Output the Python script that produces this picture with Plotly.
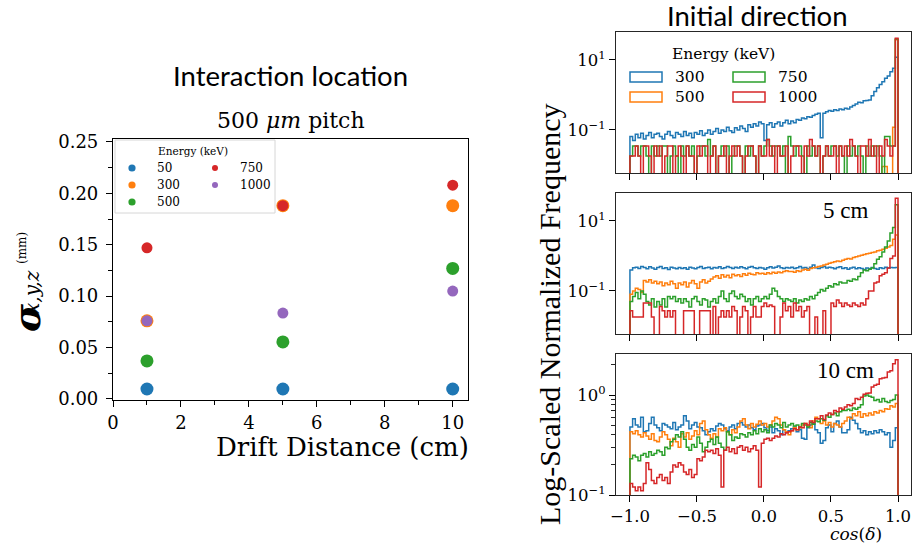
import numpy as np
import plotly.graph_objects as go

# ---------------- data: left panel (interaction location) ----------------
DRIFT_CM = [1, 5, 10]
LEFT_ENERGIES = ["50", "300", "500", "750", "1000"]
SIGMA_50 = [0.0097, 0.0097, 0.0097]
SIGMA_300 = [0.076, 0.188, 0.188]
SIGMA_500 = [0.037, 0.0555, 0.127]
SIGMA_750 = [0.147, 0.188, 0.208]
SIGMA_1000 = [0.076, 0.0836, 0.105]
LEFT_X_TICKS = [0, 2, 4, 6, 8, 10]
LEFT_X_MINOR = [1, 3, 5, 7, 9]
LEFT_Y_TICKS = [0.0, 0.05, 0.10, 0.15, 0.20, 0.25]
LEFT_Y_TICKTEXT = ["0.00", "0.05", "0.10", "0.15", "0.20", "0.25"]
LEFT_Y_MINOR = [0.025, 0.075, 0.125, 0.175, 0.225]

# ---------------- data: right panels (initial direction histograms) -------
BIN_LO, BIN_HI, N_BINS = -1.0, 1.0, 100
RIGHT_ENERGIES = ["300", "500", "750", "1000"]
RIGHT_X_TICKS = [-1.0, -0.5, 0.0, 0.5, 1.0]
RIGHT_X_TICKTEXT = ["\u22121.0", "\u22120.5", "0.0", "0.5", "1.0"]
PANEL_LABELS = ["", "5 cm", "10 cm"]

# panel 1 (top)
H1_300 = [0.065, 0.050, 0.075, 0.060, 0.080, 0.055, 0.070, 0.085, 0.060, 0.075,
          0.080, 0.065, 0.055, 0.075, 0.090, 0.070, 0.060, 0.085, 0.075, 0.065,
          0.090, 0.070, 0.080, 0.060, 0.085, 0.075, 0.095, 0.070, 0.080, 0.100,
          0.075, 0.090, 0.110, 0.080, 0.100, 0.090, 0.120, 0.095, 0.085, 0.115,
          0.100, 0.130, 0.110, 0.090, 0.140, 0.120, 0.150, 0.130, 0.170, 0.150,
          0.050, 0.140, 0.160, 0.120, 0.150, 0.170, 0.130, 0.160, 0.190, 0.150,
          0.180, 0.160, 0.200, 0.190, 0.220, 0.210, 0.240, 0.230, 0.260, 0.280,
          0.300, 0.060, 0.300, 0.330, 0.360, 0.340, 0.380, 0.360, 0.400, 0.380,
          0.420, 0.400, 0.450, 0.500, 0.550, 0.620, 0.600, 0.680, 0.700, 0.720,
          0.950, 1.250, 1.600, 2.000, 2.400, 3.000, 3.500, 4.600, 5.800, 12.0]
H1_500 = [0] * 10 + [0] * 10 + [0] * 10 + [0] * 10 + [0] * 10 + \
         [0] * 10 + [0] * 10 + [0] * 10 + [0] * 10 + \
         [0, 0, 0, 0, 0.009, 0.009, 0, 0, 0.12, 38.0]
H1_750 = [0.018, 0.035, 0.035, 0.018, 0.035, 0.035, 0.018, 0, 0.035, 0.018,
          0.035, 0.018, 0.035, 0.035, 0, 0.018, 0.035, 0.018, 0, 0.035,
          0.018, 0.035, 0.018, 0.035, 0, 0.018, 0.035, 0.035, 0.018, 0.053,
          0.018, 0.035, 0, 0.018, 0.035, 0.018, 0.035, 0, 0.018, 0.035,
          0.035, 0.018, 0, 0.035, 0.018, 0.035, 0.018, 0, 0.035, 0.018,
          0.035, 0.053, 0.035, 0.018, 0.035, 0.035, 0.018, 0.035, 0, 0.065,
          0.035, 0.018, 0.035, 0.035, 0.018, 0, 0.035, 0.018, 0.035, 0.018,
          0.035, 0, 0.018, 0.035, 0.018, 0.035, 0.035, 0.018, 0.035, 0.018,
          0, 0.035, 0.018, 0.035, 0.018, 0.035, 0.018, 0, 0.035, 0.018,
          0.035, 0.018, 0.035, 0.018, 0, 0.065, 0.065, 0.035, 0.035, 40.0]
H1_1000 = [0.018, 0.018, 0.035, 0.018, 0, 0.035, 0.035, 0.018, 0, 0.035,
           0.018, 0.035, 0, 0.018, 0.035, 0.035, 0, 0.018, 0.035, 0.018,
           0, 0.035, 0.018, 0.018, 0, 0.035, 0.018, 0.035, 0.035, 0,
           0.018, 0.035, 0, 0.018, 0.018, 0.035, 0, 0.018, 0.035, 0.018,
           0.035, 0.018, 0, 0.018, 0.035, 0.035, 0.018, 0, 0.035, 0.018,
           0.018, 0.053, 0.018, 0.035, 0, 0.035, 0.018, 0.018, 0.035, 0,
           0.018, 0.035, 0.035, 0.018, 0, 0.035, 0.018, 0.053, 0.035, 0.018,
           0.035, 0, 0.018, 0.035, 0.018, 0.018, 0.035, 0, 0.035, 0.018,
           0.035, 0.018, 0.053, 0.035, 0.018, 0, 0.035, 0.035, 0.018, 0.053,
           0.018, 0.035, 0, 0.035, 0.018, 0.053, 0.035, 0.018, 0.035, 42.0]

# panel 2 (5 cm)
H2_300 = [0.40, 0.46, 0.48, 0.44, 0.50, 0.47, 0.43, 0.49, 0.45, 0.42,
          0.47, 0.50, 0.44, 0.46, 0.41, 0.48, 0.45, 0.43, 0.47, 0.44,
          0.46, 0.42, 0.48, 0.45, 0.43, 0.47, 0.50, 0.44, 0.46, 0.48,
          0.43, 0.47, 0.45, 0.49, 0.44, 0.46, 0.50, 0.47, 0.44, 0.48,
          0.45, 0.49, 0.46, 0.43, 0.48, 0.50, 0.46, 0.44, 0.47, 0.45,
          0.42, 0.46, 0.49, 0.45, 0.48, 0.52, 0.46, 0.44, 0.47, 0.45,
          0.48, 0.44, 0.46, 0.50, 0.45, 0.47, 0.43, 0.48, 0.55, 0.46,
          0.44, 0.47, 0.50, 0.45, 0.48, 0.46, 0.43, 0.47, 0.49, 0.44,
          0.46, 0.42, 0.45, 0.48, 0.43, 0.46, 0.44, 0.41, 0.45, 0.43,
          0.47, 0.44, 0.42, 0.46, 0.44, 0.48, 0.45, 0.47, 0.46, 0.47]
H2_500 = [0.08, 0.10, 0.12, 0.11, 0.09, 0.20, 0.18, 0.21, 0.17, 0.19,
          0.16, 0.18, 0.14, 0.17, 0.15, 0.19, 0.16, 0.12, 0.17, 0.15,
          0.18, 0.13, 0.17, 0.20, 0.16, 0.12, 0.18, 0.21, 0.17, 0.19,
          0.22, 0.25, 0.27, 0.23, 0.29, 0.25, 0.28, 0.24, 0.30, 0.27,
          0.29, 0.26, 0.31, 0.28, 0.32, 0.30, 0.29, 0.33, 0.31, 0.32,
          0.30, 0.33, 0.31, 0.34, 0.32, 0.35, 0.33, 0.36, 0.38, 0.36,
          0.36, 0.34, 0.38, 0.36, 0.40, 0.42, 0.39, 0.44, 0.46, 0.48,
          0.50, 0.52, 0.55, 0.58, 0.62, 0.65, 0.68, 0.72, 0.70, 0.76,
          0.80, 0.85, 0.82, 0.90, 0.95, 1.00, 1.05, 1.10, 1.15, 1.20,
          1.25, 1.30, 1.40, 1.45, 1.55, 1.65, 1.80, 2.00, 3.00, 4.00]
H2_750 = [0.05, 0.07, 0.09, 0.06, 0.10, 0.08, 0.05, 0.04, 0.06, 0.035,
          0.05, 0.04, 0.06, 0.035, 0.07, 0.06, 0.07, 0.05, 0.06, 0.045,
          0.06, 0.05, 0.035, 0.06, 0.07, 0.05, 0.04, 0.06, 0.055, 0.035,
          0.05, 0.06, 0.045, 0.07, 0.10, 0.06, 0.05, 0.085, 0.10, 0.07,
          0.06, 0.08, 0.07, 0.05, 0.06, 0.04, 0.06, 0.07, 0.05, 0.06,
          0.07, 0.06, 0.08, 0.12, 0.10, 0.07, 0.06, 0.05, 0.06, 0.055,
          0.05, 0.06, 0.045, 0.055, 0.05, 0.06, 0.055, 0.07, 0.06, 0.075,
          0.09, 0.11, 0.10, 0.12, 0.14, 0.13, 0.16, 0.15, 0.18, 0.17,
          0.17, 0.20, 0.19, 0.22, 0.21, 0.26, 0.33, 0.40, 0.38, 0.42,
          0.45, 0.60, 0.80, 0.95, 1.30, 1.80, 2.70, 4.50, 6.50, 29.0]
H2_1000 = [0.027, 0.018, 0.018, 0.018, 0.018, 0.045, 0.045, 0.045, 0.018, 0,
           0, 0.036, 0.027, 0.018, 0.027, 0.018, 0.027, 0, 0, 0,
           0.027, 0.027, 0.027, 0.027, 0, 0, 0.027, 0.027, 0.027, 0.027,
           0, 0.036, 0, 0.018, 0.027, 0.018, 0.027, 0.018, 0.036, 0.027,
           0, 0.018, 0.036, 0.027, 0, 0.018, 0.036, 0.018, 0.018, 0.036,
           0.045, 0.036, 0.040, 0.036, 0, 0, 0.018, 0.045, 0.027, 0.036,
           0.018, 0.045, 0.027, 0.036, 0.018, 0.027, 0.036, 0, 0, 0.018,
           0, 0, 0.027, 0, 0, 0.045, 0.036, 0.055, 0.045, 0.036,
           0.045, 0.040, 0.036, 0.045, 0.040, 0.036, 0.045, 0.040, 0.060, 0.100,
           0.100, 0.170, 0.180, 0.270, 0.300, 0.330, 0.450, 0.850, 1.000, 45.0]

# panel 3 (10 cm)
H3_300 = [0.48, 0.58, 0.50, 0.48, 0.60, 0.43, 0.44, 0.52, 0.60, 0.50,
          0.47, 0.44, 0.52, 0.50, 0.48, 0.46, 0.53, 0.45, 0.48, 0.50,
          0.62, 0.55, 0.46, 0.50, 0.53, 0.48, 0.47, 0.44, 0.40, 0.43,
          0.46, 0.44, 0.49, 0.52, 0.50, 0.46, 0.44, 0.48, 0.50, 0.46,
          0.52, 0.53, 0.50, 0.48, 0.50, 0.47, 0.45, 0.49, 0.50, 0.52,
          0.47, 0.44, 0.48, 0.42, 0.46, 0.44, 0.40, 0.45, 0.42, 0.44,
          0.46, 0.48, 0.43, 0.45, 0.37, 0.36, 0.47, 0.50, 0.52, 0.45,
          0.42, 0.33, 0.35, 0.47, 0.50, 0.43, 0.52, 0.55, 0.48, 0.42,
          0.42, 0.45, 0.60, 0.56, 0.52, 0.46, 0.42, 0.44, 0.40, 0.43,
          0.41, 0.44, 0.42, 0.45, 0.43, 0.40, 0.42, 0.30, 0.35, 0.47]
H3_500 = [0.43, 0.41, 0.44, 0.40, 0.38, 0.42, 0.39, 0.36, 0.41, 0.35,
          0.34, 0.38, 0.43, 0.40, 0.36, 0.31, 0.37, 0.34, 0.30, 0.41,
          0.38, 0.42, 0.36, 0.39, 0.44, 0.40, 0.52, 0.55, 0.45, 0.40,
          0.37, 0.41, 0.38, 0.46, 0.44, 0.47, 0.43, 0.40, 0.45, 0.42,
          0.48, 0.55, 0.58, 0.50, 0.46, 0.52, 0.48, 0.51, 0.55, 0.50,
          0.52, 0.48, 0.50, 0.55, 0.60, 0.58, 0.50, 0.45, 0.43, 0.40,
          0.44, 0.47, 0.45, 0.48, 0.50, 0.52, 0.49, 0.47, 0.55, 0.60,
          0.58, 0.52, 0.55, 0.50, 0.53, 0.48, 0.52, 0.50, 0.48, 0.52,
          0.55, 0.60, 0.58, 0.65, 0.62, 0.68, 0.60, 0.65, 0.62, 0.66,
          0.63, 0.68, 0.66, 0.70, 0.68, 0.73, 0.72, 0.78, 0.76, 0.82]
H3_750 = [0.23, 0.25, 0.24, 0.22, 0.25, 0.26, 0.24, 0.27, 0.25, 0.26,
          0.28, 0.27, 0.25, 0.30, 0.29, 0.34, 0.36, 0.40, 0.38, 0.43,
          0.36, 0.30, 0.28, 0.32, 0.30, 0.38, 0.33, 0.27, 0.30, 0.34,
          0.36, 0.32, 0.38, 0.33, 0.30, 0.28, 0.43, 0.40, 0.35, 0.38,
          0.37, 0.41, 0.40, 0.38, 0.42, 0.40, 0.44, 0.41, 0.46, 0.43,
          0.45, 0.42, 0.50, 0.48, 0.52, 0.50, 0.47, 0.53, 0.48, 0.50,
          0.52, 0.49, 0.50, 0.47, 0.52, 0.50, 0.48, 0.53, 0.51, 0.55,
          0.54, 0.58, 0.56, 0.62, 0.60, 0.64, 0.66, 0.62, 0.68, 0.70,
          0.70, 0.72, 0.70, 0.74, 0.72, 0.75, 0.80, 0.98, 1.00, 0.97,
          0.95, 0.88, 0.90, 0.85, 0.92, 0.86, 0.84, 0.88, 0.90, 1.00]
H3_1000 = [0.13, 0.12, 0.11, 0.12, 0.11, 0.13, 0.21, 0.18, 0.14, 0.13,
           0.15, 0.16, 0.14, 0.15, 0.13, 0.17, 0.20, 0.19, 0.21, 0.20,
           0.17, 0.16, 0.18, 0.15, 0.16, 0.23, 0.22, 0.24, 0.28, 0.27,
           0.28, 0.26, 0.29, 0.25, 0.12, 0.28, 0.30, 0.27, 0.29, 0.26,
           0.30, 0.31, 0.28, 0.30, 0.27, 0.29, 0.31, 0.28, 0.12, 0.33,
           0.36, 0.37, 0.35, 0.37, 0.39, 0.38, 0.41, 0.40, 0.42, 0.43,
           0.44, 0.46, 0.45, 0.48, 0.47, 0.52, 0.50, 0.55, 0.53, 0.58,
           0.58, 0.62, 0.57, 0.63, 0.66, 0.64, 0.70, 0.68, 0.74, 0.72,
           0.76, 0.80, 0.78, 0.82, 0.92, 0.90, 0.95, 1.02, 1.04, 1.05,
           1.20, 1.25, 1.28, 1.45, 1.48, 1.50, 1.70, 1.75, 2.05, 2.25]

PANELS = [
    [H1_300, H1_500, H1_750, H1_1000],
    [H2_300, H2_500, H2_750, H2_1000],
    [H3_300, H3_500, H3_750, H3_1000],
]
for panel in PANELS:
    for series in panel:
        assert len(series) == N_BINS

# ---------------- styling ----------------
W, H = 914, 549
BLUE, ORANGE, GREEN, RED, PURPLE = "#1f77b4", "#ff7f0e", "#2ca02c", "#d62728", "#9467bd"
LEFT_COLORS = [BLUE, ORANGE, GREEN, RED, PURPLE]
LEFT_SIZES = [13, 13, 13, 11, 11]
RIGHT_COLORS = [BLUE, ORANGE, GREEN, RED]
SERIF = "DejaVu Serif"
TIMES = "Liberation Serif"
SANS = "Lato"
FLOOR = 1e-4


def px(x):
    return x / W


def py(y):
    return 1 - y / H


fig = go.Figure()

# ---- left scatter ----
left_series = [SIGMA_50, SIGMA_300, SIGMA_500, SIGMA_750, SIGMA_1000]
for name, vals, col, size in zip(LEFT_ENERGIES, left_series, LEFT_COLORS, LEFT_SIZES):
    fig.add_trace(go.Scatter(x=DRIFT_CM, y=vals, mode="markers", name=name,
                             marker=dict(color=col, size=size, line=dict(width=0)),
                             xaxis="x", yaxis="y", showlegend=False))

# ---- right step histograms ----
edges = np.linspace(BIN_LO, BIN_HI, N_BINS + 1)


def step_xy(vals):
    v = np.asarray(vals, dtype=float)
    v = np.where(v > 0, v, FLOOR)
    x = np.concatenate([[edges[0]], edges[:-1], [edges[-1], edges[-1]]])
    y = np.concatenate([[FLOOR], v, [v[-1], FLOOR]])
    return x, y


for pi, panel in enumerate(PANELS):
    ax = str(pi + 2)
    for name, vals, col in zip(RIGHT_ENERGIES, panel, RIGHT_COLORS):
        sx, sy = step_xy(vals)
        fig.add_trace(go.Scatter(x=sx, y=sy, mode="lines", name=name,
                                 line=dict(color=col, width=1.5, shape="hv"),
                                 xaxis="x" + ax, yaxis="y" + ax, showlegend=False))

# ---- axes ----
frame = dict(showline=True, mirror=True, linecolor="black", linewidth=1.2,
             ticks="outside", ticklen=6, tickwidth=1.1, tickcolor="black",
             showgrid=False, zeroline=False)

layout = dict(
    width=W, height=H, autosize=False,
    margin=dict(l=0, r=0, t=0, b=0, autoexpand=False),
    paper_bgcolor="white", plot_bgcolor="white",
    showlegend=False,
    xaxis=dict(domain=[px(113), px(468)], anchor="y", range=[0, 10.45],
               tickmode="array", tickvals=LEFT_X_TICKS,
               tickfont=dict(family=SERIF, size=18, color="black"),
               minor=dict(tickmode="array", tickvals=LEFT_X_MINOR, ticks="outside",
                          ticklen=3.5, tickcolor="black"),
               **frame),
    yaxis=dict(domain=[py(400), py(139)], anchor="x", range=[-0.001, 0.2529],
               tickmode="array", tickvals=LEFT_Y_TICKS, ticktext=LEFT_Y_TICKTEXT,
               tickfont=dict(family=SERIF, size=18, color="black"),
               ticklabelstandoff=4,
               minor=dict(tickmode="array", tickvals=LEFT_Y_MINOR, ticks="outside",
                          ticklen=3.5, tickcolor="black"),
               **frame),
)

panel_px = [(32, 173), (193, 334), (354, 495)]
log_ranges = [[-2.23, 1.8], [-2.23, 1.8], [-1.0, 0.41]]
ytick_vals = [[0.1, 10], [0.1, 10], [0.1, 1]]
ytick_text = [["10<sup>\u22121</sup>", "10<sup>1</sup>"],
              ["10<sup>\u22121</sup>", "10<sup>1</sup>"],
              ["10<sup>\u22121</sup>", "10<sup>0</sup>"]]
yminor = [[], [], [0.2, 0.3, 0.4, 0.5, 0.6, 0.7, 0.8, 0.9, 2.0]]
rframe = dict(frame)
rframe.update(linecolor="#262626", linewidth=1.2)
for i, (top, bot) in enumerate(panel_px):
    n = str(i + 2)
    layout["xaxis" + n] = dict(domain=[px(616), px(911)], anchor="y" + n,
                               range=[-1.104, 1.097], tickmode="array",
                               tickvals=RIGHT_X_TICKS, ticktext=RIGHT_X_TICKTEXT,
                               showticklabels=(i == 2),
                               tickfont=dict(family=SERIF, size=16.5, color="black"),
                               **rframe)
    ydict = dict(domain=[py(bot), py(top)], anchor="x" + n, type="log",
                 range=log_ranges[i], tickmode="array", tickvals=ytick_vals[i],
                 ticktext=ytick_text[i],
                 tickfont=dict(family=SERIF, size=16.5, color="black"),
                 **rframe)
    if yminor[i]:
        ydict["minor"] = dict(tickmode="array", tickvals=yminor[i], ticks="outside",
                              ticklen=3.5, tickcolor="#262626")
    layout["yaxis" + n] = ydict

fig.update_layout(**layout)

# ---- text ----
ann = []


def text(x, y, s, family, size, angle=0, xanchor="center", color="black"):
    ann.append(dict(x=px(x), y=py(y), xref="paper", yref="paper", text=s,
                    showarrow=False, xanchor=xanchor, yanchor="middle",
                    textangle=angle, font=dict(family=family, size=size, color=color)))


text(290, 75, "Interaction location", SANS, 27.5)
text(291, 120, "500 <i>\u03bcm</i> pitch", SERIF, 22)
text(342, 447, "Drift Distance (cm)", SERIF, 26)
text(26, 318, "<b><i>\u03c3</i></b>", SERIF, 38, angle=-90)
text(32, 292, "<i>x,y,z</i>", SERIF, 20, angle=-90)
text(22, 248, "(mm)", SERIF, 12, angle=-90)

text(757, 15, "Initial direction", SANS, 27.5)
text(549, 314, "Log-Scaled Normalized Frequency", TIMES, 30, angle=-90)
text(856, 534, "<i>cos</i>(<i>\u03b4</i>)", SERIF, 17)
text(845, 210, PANEL_LABELS[1], TIMES, 23)
text(845, 370, PANEL_LABELS[2], TIMES, 23)

# left legend (manual)
shapes = []
shapes.append(dict(type="rect", xref="paper", yref="paper",
                   x0=px(115), x1=px(275), y0=py(213), y1=py(140),
                   line=dict(color="#d6d6d6", width=1), fillcolor="rgba(255,255,255,0.85)",
                   layer="below"))
text(193, 151, "Energy (keV)", SERIF, 10.5)
leg_pos = [(132, 168), (132, 185), (132, 202), (215, 168), (215, 185)]
leg_r = [3.6, 3.6, 3.6, 3.0, 3.0]
for name, col, (lx, ly), r in zip(LEFT_ENERGIES, LEFT_COLORS, leg_pos, leg_r):
    shapes.append(dict(type="circle", xref="paper", yref="paper",
                       xsizemode="pixel", ysizemode="pixel",
                       xanchor=px(lx), yanchor=py(ly), x0=-r, x1=r, y0=-r, y1=r,
                       fillcolor=col, line=dict(width=0)))
    text(lx + 23, ly, name, SERIF, 12, xanchor="left")

# right legend (manual)
text(723, 54, "Energy (keV)", SERIF, 15.5)
rleg_pos = [(630, 77), (630, 97), (733, 77), (733, 97)]
for name, col, (lx, ly) in zip(RIGHT_ENERGIES, RIGHT_COLORS, rleg_pos):
    shapes.append(dict(type="rect", xref="paper", yref="paper",
                       x0=px(lx), x1=px(lx + 32), y0=py(ly + 5), y1=py(ly - 5),
                       line=dict(color=col, width=1.5), fillcolor="rgba(0,0,0,0)"))
    text(lx + 43, ly, name, SERIF, 15.5, xanchor="left")

fig.update_layout(annotations=ann, shapes=shapes)
fig.write_html("out.html",
               config={"displayModeBar": False},
               post_script="document.body.style.margin='0';"
                           "document.body.style.overflow='hidden';")
